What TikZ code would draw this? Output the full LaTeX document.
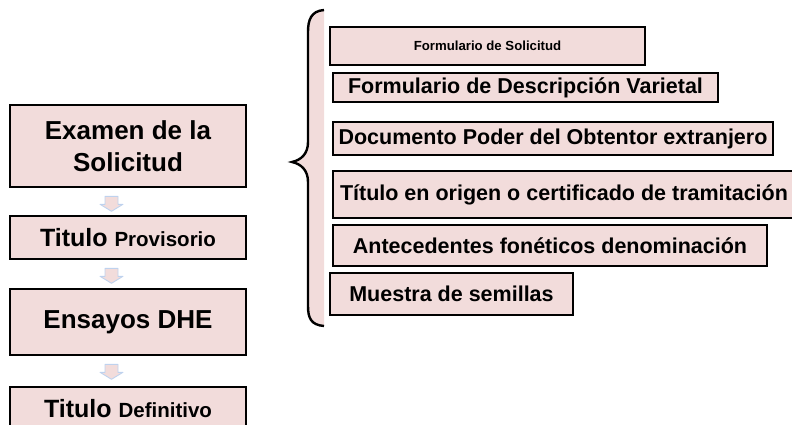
\documentclass[tikz,border=0pt]{standalone}
\usepackage{fontspec}
\setmainfont{Liberation Sans}
\usetikzlibrary{calc}
\definecolor{rosa}{RGB}{242,220,219}
\definecolor{celeste}{RGB}{190,210,238}

\newcommand{\grande}{\fontsize{26}{32}\selectfont}
\newcommand{\medio}{\fontsize{21.5}{25}\selectfont}
\newcommand{\chico}{\fontsize{20.5}{24}\selectfont}

\begin{document}
\begin{tikzpicture}[x=1pt,y=-1pt,
    caja/.style={draw,line width=2.6pt,fill=rosa,inner sep=0pt,align=center},
    flecha/.style={draw=celeste,fill=rosa,line width=.9pt,line join=round}]
      \clip (0,0) rectangle (792,425);

      \node (exa) at (128,146) [caja,minimum width=236pt,minimum height=82pt,font=\bfseries\grande] {Examen de la\\Solicitud};
      \node (pro) at (128,237.5) [caja,minimum width=236pt,minimum height=43pt,font=\bfseries\fontsize{25}{30}\selectfont] {Titulo {\chico Provisorio}};
      \node (ens) at (128,322) [caja,minimum width=236pt,minimum height=66pt,font=\bfseries\grande] {Ensayos DHE};
      \node (def) at (128,408.5) [caja,minimum width=236pt,minimum height=43pt,font=\bfseries\fontsize{25}{30}\selectfont] {Titulo {\chico Definitivo}};

      \coordinate (f1) at ($(exa.south)+(-16.5,8)$);
      \coordinate (f2) at ($(pro.south)+(-16.5,8)$);
      \coordinate (f3) at ($(ens.south)+(-16.5,8)$);
      \foreach \f in {f1,f2,f3}
        \draw[flecha] (\f) ++(-6.5,0) -- ++(13,0) -- ++(0,8) -- ++(5,0) -- ++(-11.5,7)
          -- ++(-11.5,-7) -- ++(5,0) -- cycle;

      \draw[line width=2.4pt,fill=rosa]
      (324,10) .. controls (311,11) and (308,20) .. (308,32) -- (308,142)
      .. controls (308,154) and (301,160) .. (292,162)
      .. controls (301,164) and (308,170) .. (308,182) -- (308,306)
      .. controls (308,318) and (311,325) .. (324,326);

      \node (d1) at (487.5,46) [caja,minimum width=315pt,minimum height=38pt,font=\bfseries\fontsize{13.2}{16}\selectfont] {Formulario de Solicitud};
      \node (d2) at (525.5,87.5) [caja,minimum width=385pt,minimum height=29pt,font=\bfseries\medio] {Formulario de Descripción Varietal};
      \node (d3) at (553,138.5) [caja,minimum width=440pt,minimum height=33pt,font=\bfseries\medio] {Documento Poder del Obtentor extranjero};
      \node (d4) at (564,194.5) [caja,minimum width=462pt,minimum height=47pt,font=\bfseries\medio] {Título en origen o certificado de tramitación};
      \node (d5) at (550,245.5) [caja,minimum width=434pt,minimum height=41pt,font=\bfseries\medio] {Antecedentes fonéticos denominación};
      \node (d6) at (451.5,294) [caja,minimum width=243pt,minimum height=42pt,font=\bfseries\medio] {Muestra de semillas};

\end{tikzpicture}
\end{document}
